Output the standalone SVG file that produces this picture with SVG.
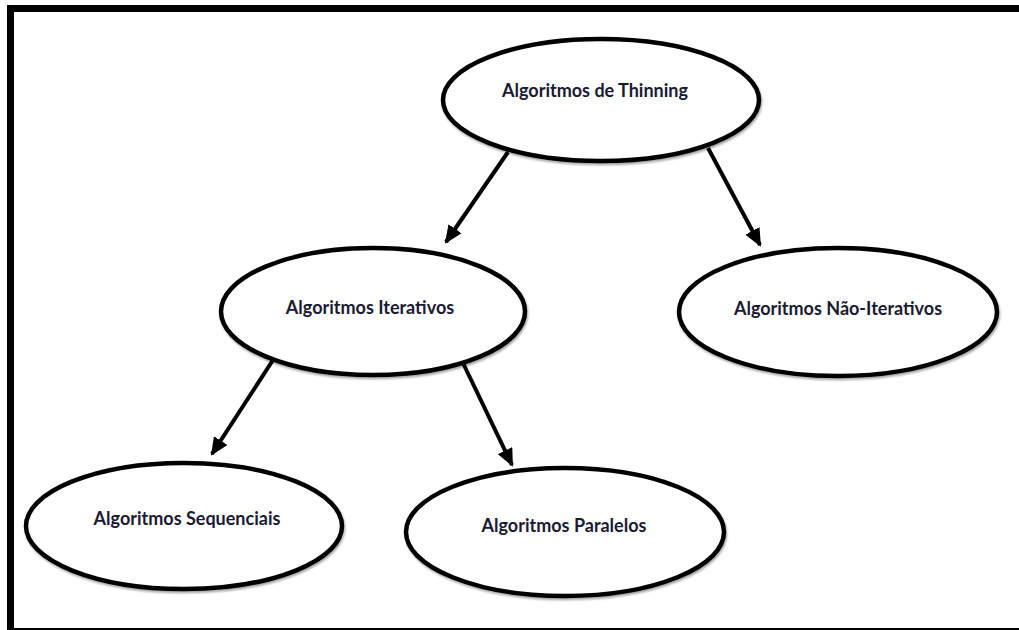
<svg xmlns="http://www.w3.org/2000/svg" width="1019" height="630" viewBox="0 0 1019 630">
<defs>
<style>
.node ellipse{fill:#fff;stroke:#000;stroke-width:4.5;filter:url(#sh)}
.node text{font-family:Lato,"Open Sans","Liberation Sans",sans-serif;font-weight:bold;font-size:18px;fill:#1a1a33;text-anchor:middle}
.conn line{stroke:#000;stroke-width:4;marker-end:url(#ah)}
</style>
<filter id="sh" x="-10%" y="-10%" width="120%" height="130%">
<feDropShadow dx="1" dy="2" stdDeviation="1.2" flood-color="#000" flood-opacity="0.35"/>
</filter>
<marker id="ah" markerWidth="5" markerHeight="4" refX="4" refY="2" orient="auto" markerUnits="strokeWidth">
<path d="M0,0 L4.5,2 L0,4 Z" fill="#000"/>
</marker>
</defs>
<rect x="0" y="0" width="1019" height="630" fill="#fff"/>
<g id="frame">
<path d="M10.5,630 V8.5 H1019" fill="none" stroke="#000" stroke-width="7"/>
<line x1="10" y1="629" x2="1019" y2="629" stroke="#000" stroke-width="2"/>
</g>
<g id="connectors" class="conn">
<line x1="508" y1="152" x2="446" y2="242"/>
<line x1="708" y1="148" x2="760" y2="245"/>
<line x1="273" y1="360" x2="212" y2="454"/>
<line x1="463" y1="363" x2="512" y2="465"/>
</g>
<g id="n-thinning" class="node">
<ellipse cx="601" cy="100" rx="158" ry="61"/>
<text x="595" y="97">Algoritmos de Thinning</text>
</g>
<g id="n-iterativos" class="node">
<ellipse cx="373" cy="311.5" rx="152" ry="63.5"/>
<text x="370" y="314">Algoritmos Iterativos</text>
</g>
<g id="n-naoiterativos" class="node">
<ellipse cx="838" cy="312" rx="159" ry="64"/>
<text x="838" y="315">Algoritmos Não-Iterativos</text>
</g>
<g id="n-sequenciais" class="node">
<ellipse cx="184" cy="526" rx="158" ry="63"/>
<text x="187" y="525">Algoritmos Sequenciais</text>
</g>
<g id="n-paralelos" class="node">
<ellipse cx="565" cy="532" rx="159" ry="64"/>
<text x="564" y="532">Algoritmos Paralelos</text>
</g>
</svg>
